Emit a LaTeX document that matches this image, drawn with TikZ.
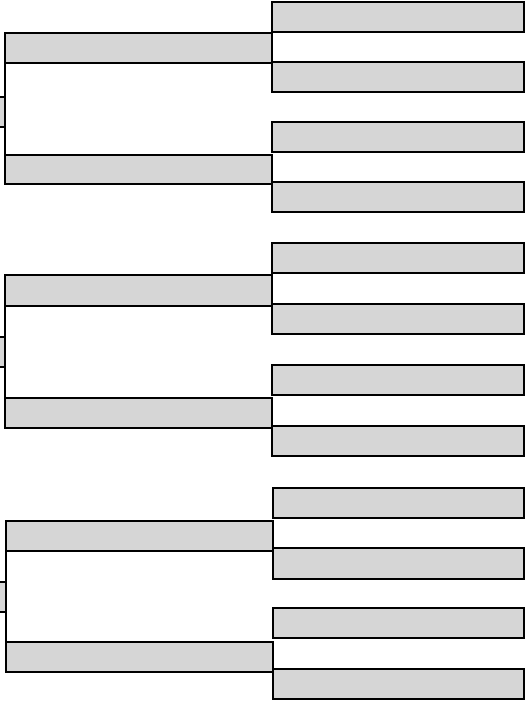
\documentclass[tikz,border=0pt]{standalone}
\begin{document}
\begin{tikzpicture}[x=1pt,y=-1pt]
\tikzset{box/.style={draw=black, fill=black!16, line width=1.4pt, inner sep=0pt, outer sep=0pt, rectangle},
  link/.style={draw=black, line width=1.4pt}}
\newcommand\bx[5]{\node[box, minimum width={(#4-#2)*1pt}, minimum height={(#5-#3)*1pt}] (#1) at ({(#2+#4)/2},{(#3+#5)/2}) {};}
\useasboundingbox (0,0) rectangle (526,701);
\clip (0,0) rectangle (526,701);
% group 1
\bx{R1}{272}{2}{524}{32}
\bx{R2}{272}{62}{524}{92}
\bx{R3}{272}{122}{524}{152}
\bx{R4}{272}{182}{524}{212}
\bx{L1}{5}{33}{272}{63}
\bx{L2}{5}{155}{272}{184}
\bx{S1}{-10}{97}{5}{127}
\draw[link] (L1.south west) -- (L2.north west);
% group 2
\bx{R5}{272}{243}{524}{273}
\bx{R6}{272}{304}{524}{334}
\bx{R7}{272}{365}{524}{395}
\bx{R8}{272}{426}{524}{456}
\bx{L3}{5}{275}{272}{306}
\bx{L4}{5}{398}{272}{428}
\bx{S2}{-10}{337}{5}{367}
\draw[link] (L3.south west) -- (L4.north west);
% group 3
\bx{R9}{273}{488}{524}{518}
\bx{R10}{273}{548}{524}{579}
\bx{R11}{273}{608}{524}{638}
\bx{R12}{273}{669}{524}{699}
\bx{L5}{6}{521}{273}{551}
\bx{L6}{6}{642}{273}{672}
\bx{S3}{-10}{582}{6}{612}
\draw[link] (L5.south west) -- (L6.north west);
\end{tikzpicture}
\end{document}
